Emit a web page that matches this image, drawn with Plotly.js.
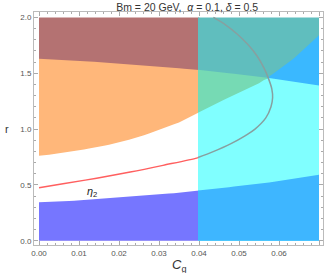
<!DOCTYPE html>
<html>
<head>
<meta charset="utf-8">
<script src="https://cdn.plot.ly/plotly-3.0.1.min.js"></script>
<style>html,body{margin:0;padding:0;background:#fff;}#chart{width:327px;height:273px;}</style>
</head>
<body>
<div id="chart"></div>
<script>
// Cg grid for the region boundaries
const cgGrid = [0, 0.005, 0.01, 0.015, 0.02, 0.025, 0.03, 0.035, 0.04, 0.045, 0.05, 0.055, 0.06, 0.065, 0.07];
// lower boundary of the orange band (rising curve)
const curveA = [0.76, 0.78, 0.81, 0.84, 0.88, 0.93, 0.99, 1.06, 1.15, 1.24, 1.33, 1.41, 1.53, 1.67, 1.84];
// upper boundary of the orange band (falling curve)
const curveB = [1.63, 1.62, 1.61, 1.60, 1.59, 1.575, 1.56, 1.545, 1.53, 1.51, 1.49, 1.47, 1.445, 1.42, 1.39];
// top of the bottom (blue) band
const curveC = [0.345, 0.35, 0.36, 0.37, 0.385, 0.40, 0.415, 0.43, 0.45, 0.47, 0.49, 0.51, 0.535, 0.56, 0.59];
// vertical cut between the left and right regions
const cgCut = 0.03975;
const rMax = 2.0;
// eta_2 curve (Cg, r)
const etaCg = [0, 0.006, 0.0144, 0.0228, 0.031, 0.0394, 0.0437, 0.048, 0.0515, 0.054, 0.0567, 0.058, 0.0584, 0.0582, 0.0574, 0.0562, 0.0546, 0.0524, 0.0496, 0.0468, 0.0436];
const etaR  = [0.475, 0.51, 0.56, 0.615, 0.675, 0.74, 0.80, 0.87, 0.94, 1.0, 1.1, 1.2, 1.28, 1.36, 1.45, 1.55, 1.65, 1.75, 1.85, 1.93, 2.0];

(function () {
function interp(arr, c) {
  for (let i = 0; i < cgGrid.length - 1; i++) {
    if (c >= cgGrid[i] && c <= cgGrid[i + 1]) {
      const t = (c - cgGrid[i]) / (cgGrid[i + 1] - cgGrid[i]);
      return arr[i] + t * (arr[i + 1] - arr[i]);
    }
  }
  return arr[arr.length - 1];
}
function xsBetween(c0, c1) {
  const xs = [c0];
  cgGrid.forEach(c => { if (c > c0 && c < c1) xs.push(c); });
  xs.push(c1);
  const out = [];
  for (let i = 0; i < xs.length - 1; i++) {
    for (let k = 0; k < 4; k++) out.push(xs[i] + (xs[i + 1] - xs[i]) * k / 4);
  }
  out.push(c1);
  return out;
}
function band(c0, c1, lowF, highF, color) {
  const xs = xsBetween(c0, c1);
  const X = [], Y = [];
  xs.forEach(c => { X.push(c); Y.push(lowF(c)); });
  xs.slice().reverse().forEach(c => { X.push(c); Y.push(highF(c)); });
  return {x: X, y: Y, type: 'scatter', mode: 'lines', fill: 'toself', fillcolor: color,
          line: {width: 0, color: color}, hoverinfo: 'skip', showlegend: false};
}
const fA = c => interp(curveA, c), fB = c => interp(curveB, c), fC = c => interp(curveC, c);
const fZero = c => 0, fTop = c => rMax;
let cross = cgGrid[cgGrid.length - 1];
for (let i = 0; i < cgGrid.length - 1; i++) {
  const d0 = curveB[i] - curveA[i], d1 = curveB[i + 1] - curveA[i + 1];
  if (d0 > 0 && d1 <= 0) { cross = cgGrid[i] + (cgGrid[i + 1] - cgGrid[i]) * d0 / (d0 - d1); break; }
}
const cgEnd = cgGrid[cgGrid.length - 1];
const leftEnd = cgCut + 0.0003; // hidden under the right part, avoids a seam

const traces = [
  band(0, leftEnd, fZero, fTop, 'rgb(180,114,114)'),
  band(0, leftEnd, fZero, fB, 'rgb(255,183,122)'),
  band(0, leftEnd, fZero, fA, 'rgb(255,255,255)'),
  band(0, leftEnd, fZero, fC, 'rgb(118,118,255)'),
  band(cgCut, cgEnd, fZero, fTop, 'rgb(96,190,190)'),
  band(cgCut, cross, fZero, fB, 'rgb(118,218,180)'),
  band(cross, cgEnd, fZero, fA, 'rgb(58,184,255)'),
  band(cgCut, cgEnd, fZero, c => Math.min(fA(c), fB(c)), 'rgb(128,255,255)'),
  band(cgCut, cgEnd, fZero, fC, 'rgb(62,182,255)')
];

const redX = [], redY = [], grayX = [], grayY = [];
for (let i = 0; i < etaCg.length; i++) {
  if (etaCg[i] <= cgCut) { redX.push(etaCg[i]); redY.push(etaR[i]); }
}
const j = redX.length;
const tt = (cgCut - etaCg[j - 1]) / (etaCg[j] - etaCg[j - 1]);
const rc = etaR[j - 1] + tt * (etaR[j] - etaR[j - 1]);
redX.push(cgCut); redY.push(rc);
grayX.push(cgCut); grayY.push(rc);
for (let i = j; i < etaCg.length; i++) { grayX.push(etaCg[i]); grayY.push(etaR[i]); }
traces.push({x: redX, y: redY, type: 'scatter', mode: 'lines', line: {color: 'rgb(255,95,95)', width: 1.5, shape: 'spline', smoothing: 1}, hoverinfo: 'skip', showlegend: false});
traces.push({x: grayX, y: grayY, type: 'scatter', mode: 'lines', line: {color: 'rgb(135,160,160)', width: 1.5, shape: 'spline', smoothing: 1}, hoverinfo: 'skip', showlegend: false});

const axisCommon = {
  showgrid: false, zeroline: false, showline: true, linecolor: '#bbbbbb', linewidth: 1,
  mirror: 'ticks', ticks: 'inside', ticklen: 4, tickcolor: '#aaaaaa', tickwidth: 1,
  tickfont: {family: 'Liberation Sans, Arial, sans-serif', size: 8, color: '#555555'}
};
const layout = {
  width: 327, height: 273,
  margin: {l: 34, r: 4, t: 12, b: 28},
  paper_bgcolor: '#ffffff', plot_bgcolor: '#ffffff',
  title: {text: 'Bm = 20 GeV,  <i>α</i> = 0.1, <i>δ</i> = 0.5', xref: 'paper', x: 0.53, xanchor: 'center', y: 0.974, yanchor: 'middle',
          font: {family: 'Liberation Sans, Arial, sans-serif', size: 10.5, color: '#333333'}},
  xaxis: Object.assign({}, axisCommon, {range: [-0.00125, 0.071], tickvals: [0, 0.01, 0.02, 0.03, 0.04, 0.05, 0.06, 0.07],
          ticktext: ['0.00', '0.01', '0.02', '0.03', '0.04', '0.05', '0.06', '0.07'],
          minor: {dtick: 0.002, tick0: 0, ticks: 'inside', ticklen: 2, tickcolor: '#aaaaaa'}}),
  yaxis: Object.assign({}, axisCommon, {range: [-0.0385, 2.049], tickvals: [0, 0.5, 1.0, 1.5, 2.0],
          ticktext: ['0.0', '0.5', '1.0', '1.5', '2.0'],
          minor: {dtick: 0.1, tick0: 0, ticks: 'inside', ticklen: 2, tickcolor: '#aaaaaa'}}),
  annotations: [
    {text: '<i>C</i><sub>g</sub>', xref: 'paper', yref: 'paper', x: 0.5, y: -0.086, xanchor: 'center', yanchor: 'middle',
     showarrow: false, font: {family: 'Liberation Sans, Arial, sans-serif', size: 13, color: '#333333'}},
    {text: 'r', xref: 'paper', yref: 'paper', x: -0.093, y: 0.498, xanchor: 'center', yanchor: 'middle',
     showarrow: false, font: {family: 'Liberation Sans, Arial, sans-serif', size: 11, color: '#333333'}},
    {text: '<i>η</i><sub>2</sub>', xref: 'x', yref: 'y', x: 0.0132, y: 0.44, xanchor: 'center', yanchor: 'middle',
     showarrow: false, font: {family: 'Liberation Sans, Arial, sans-serif', size: 11, color: '#222222'}}
  ]
};
Plotly.newPlot('chart', traces, layout, {staticPlot: true, displayModeBar: false});
})();
</script>
</body>
</html>
